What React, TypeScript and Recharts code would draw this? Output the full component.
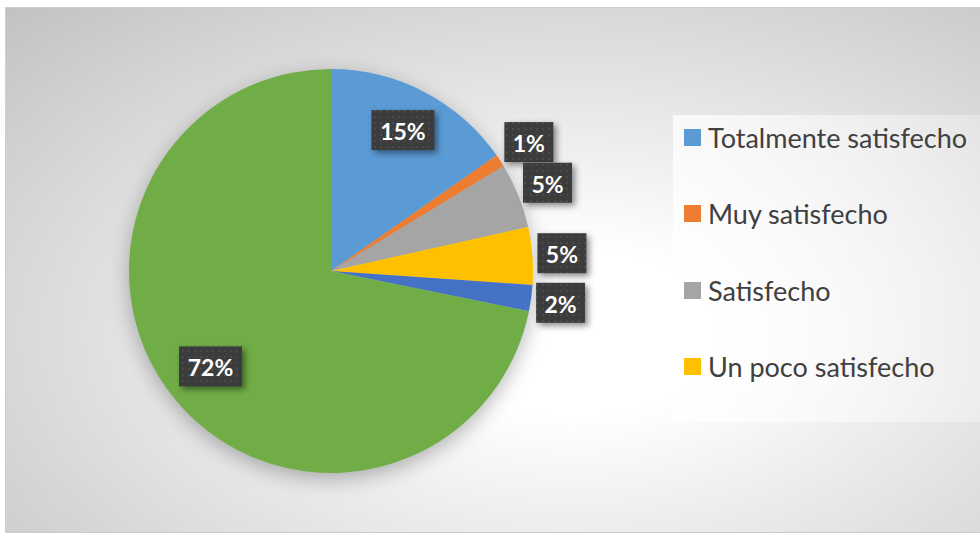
import { Cell, Legend, Pie, PieChart } from 'recharts';

const categories = [
  'Totalmente satisfecho',
  'Muy satisfecho',
  'Satisfecho',
  'Un poco satisfecho',
  'Poco satisfecho',
  'Nada satisfecho',
];
const shares = [15.3, 1.0, 5.2, 4.6, 2.1, 71.8];
const colors = ['#5B9BD5', '#ED7D31', '#A5A5A5', '#FFC000', '#4472C4', '#70AD47'];

const data = categories.map((name, i) => ({ name, value: shares[i] }));

const RAD = Math.PI / 180;
const LEGEND_H = 307;
const LEGEND_ROW = 76.5;
const LEGEND_FIRST = 22;

function renderLabel(props: any) {
  const { cx, cy, midAngle, outerRadius, percent, index } = props;
  const text = `${Math.round(percent * 100)}%`;
  const w = text.length * 14 + 21;
  const h = 40;
  const cos = Math.cos(-midAngle * RAD);
  const sin = Math.sin(-midAngle * RAD);
  let x: number;
  let y: number;
  if (percent > 0.1) {
    // dentro del sector
    x = cx + outerRadius * 0.77 * cos;
    y = cy + outerRadius * 0.77 * sin - 3;
  } else {
    // fuera, pegada al borde
    x = cx + (outerRadius + 5) * cos + (cos >= 0 ? w / 2 : -w / 2);
    y = cy + (outerRadius + 34) * sin;
  }
  return (
    <g key={`lbl-${index}`}>
      {index === 0 && (
        <defs>
          <pattern id="dots" width="6" height="6" patternUnits="userSpaceOnUse">
            <rect width="6" height="6" fill="#3c3c3c" />
            <circle cx="3" cy="3" r="1" fill="#4e4e4e" />
          </pattern>
        </defs>
      )}
      <rect
        x={x - w / 2}
        y={y - h / 2}
        width={w}
        height={h}
        fill="url(#dots)"
        style={{ filter: 'drop-shadow(3px 3px 3px rgba(0,0,0,0.45))' }}
      />
      <text
        x={x}
        y={y + 1}
        textAnchor="middle"
        dominantBaseline="central"
        fill="#ffffff"
        fontFamily="Lato, sans-serif"
        fontWeight={700}
        fontSize={23}
      >
        {text}
      </text>
    </g>
  );
}

function LegendBox() {
  // solo caben las entradas cuyo texto entra en la caja
  const fits = Math.floor((LEGEND_H - LEGEND_FIRST - 15) / LEGEND_ROW) + 1;
  return (
    <div
      style={{
        width: 307,
        height: LEGEND_H,
        overflow: 'hidden',
        background: 'linear-gradient(90deg, rgba(255,255,255,0.75), rgba(255,255,255,0.3))',
        boxSizing: 'border-box',
      }}
    >
      {categories.slice(0, fits).map((name, i) => (
        <div
          key={name}
          style={{
            display: 'flex',
            alignItems: 'center',
            height: LEGEND_ROW,
            marginTop: i === 0 ? LEGEND_FIRST - LEGEND_ROW / 2 : 0,
            fontFamily: 'Lato, sans-serif',
            fontSize: 27,
            color: '#404040',
            whiteSpace: 'nowrap',
          }}
        >
          <span
            style={{
              display: 'inline-block',
              flex: 'none',
              width: 17,
              height: 17,
              background: colors[i],
              marginLeft: 11,
              marginRight: 7,
            }}
          />
          {name}
        </div>
      ))}
    </div>
  );
}

export default function App() {
  return (
    <div style={{ position: 'relative', width: 980, height: 534, overflow: 'hidden' }}>
      <style>{'body{margin:0} .pie-wrap .recharts-pie{filter:drop-shadow(0 6px 10px rgba(0,0,0,0.28));}'}</style>
      <div
        style={{
          position: 'absolute',
          left: 5,
          top: 7,
          width: 980,
          height: 526,
          border: '1px solid #cfcfcf',
          boxSizing: 'border-box',
          background: 'radial-gradient(ellipse farthest-corner at 58% 62%, #ffffff 0%, #ffffff 18%, #c2c2c2 100%)',
        }}
      />
      <div className="pie-wrap" style={{ position: 'absolute', left: 0, top: 0 }}>
        <PieChart width={980} height={534} margin={{ top: 0, right: 0, bottom: 0, left: 0 }}>
          <Pie
            data={data}
            dataKey="value"
            nameKey="name"
            cx={331}
            cy={271}
            outerRadius={202}
            startAngle={90}
            endAngle={-270}
            stroke="none"
            label={renderLabel}
            labelLine={false}
            isAnimationActive={false}
          >
            {data.map((d, i) => (
              <Cell key={d.name} fill={colors[i]} />
            ))}
          </Pie>
          <Legend
            content={() => <LegendBox />}
            wrapperStyle={{ position: 'absolute', left: 673, top: 115, width: 307, height: LEGEND_H }}
          />
        </PieChart>
      </div>
    </div>
  );
}
